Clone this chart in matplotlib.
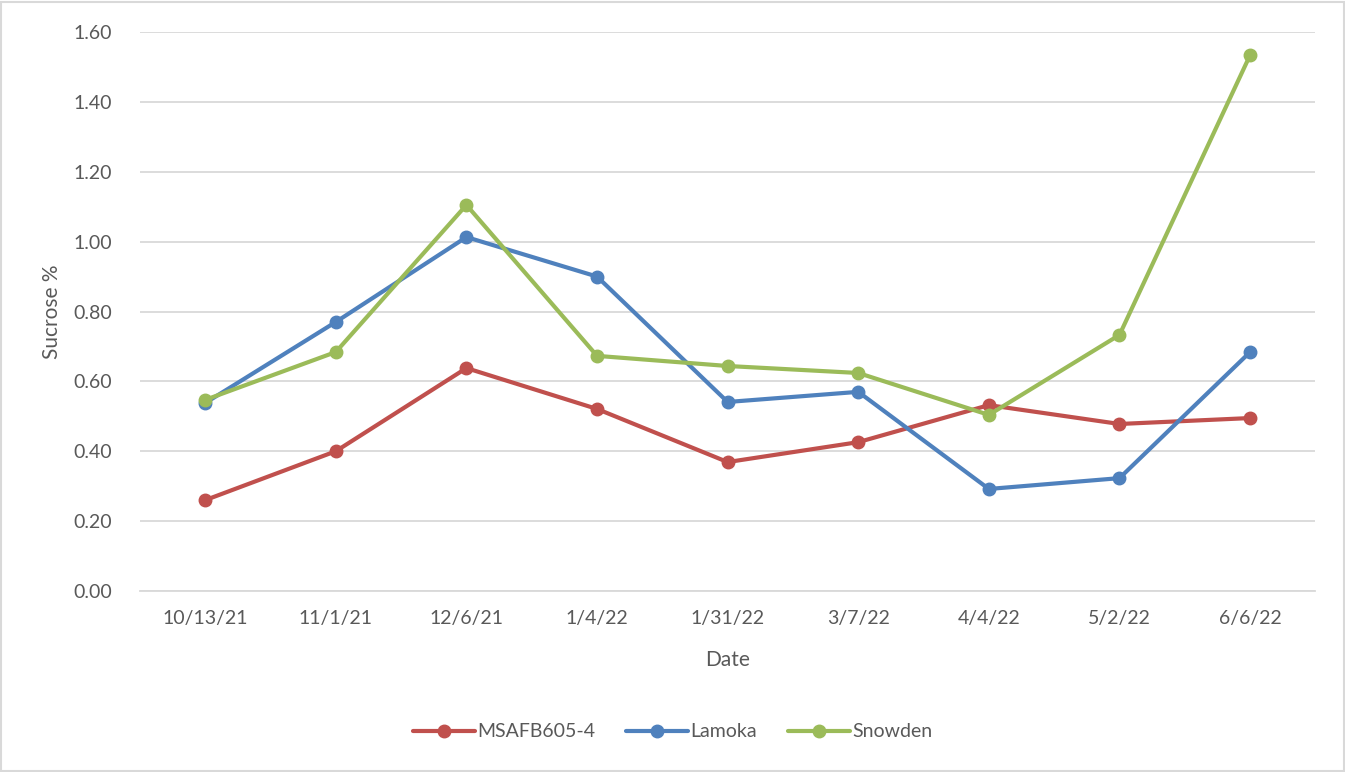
import matplotlib
matplotlib.use("Agg")
import matplotlib.pyplot as plt
from matplotlib.patches import Rectangle
import numpy as np

plt.rcParams['font.family'] = ['Lato', 'DejaVu Sans']

dates = ['10/13/21', '11/1/21', '12/6/21', '1/4/22', '1/31/22',
         '3/7/22', '4/4/22', '5/2/22', '6/6/22']
msafb = [0.26, 0.40, 0.638, 0.521, 0.369, 0.426, 0.532, 0.478, 0.495]
lamoka = [0.538, 0.77, 1.013, 0.90, 0.541, 0.57, 0.292, 0.323, 0.684]
snowden = [0.547, 0.684, 1.105, 0.673, 0.644, 0.624, 0.504, 0.733, 1.534]

series = [('MSAFB605-4', msafb, '#C0504D'),
          ('Lamoka', lamoka, '#4F81BD'),
          ('Snowden', snowden, '#9BBB59')]

grey = '#595959'

fig = plt.figure(figsize=(13.45, 7.72), dpi=100)
ax = fig.add_axes([0.104, 0.2345, 0.874, 0.724])

x = np.arange(len(dates))
for name, vals, col in series:
    ax.plot(x, vals, color=col, lw=3, marker='o', ms=9,
            solid_capstyle='round', label=name, zorder=3)

ax.set_xlim(-0.5, len(dates) - 0.5)
ax.set_ylim(0, 1.6)
ax.set_yticks(np.arange(0, 1.61, 0.2))
ax.set_yticklabels([f'{v:.2f}' for v in np.arange(0, 1.61, 0.2)])
ax.set_xticks(x)
ax.set_xticklabels(dates)
ax.grid(axis='y', color='#D9D9D9', lw=1.3, zorder=0)
for s in ['top', 'right', 'left']:
    ax.spines[s].set_visible(False)
ax.spines['bottom'].set_color('#D9D9D9')
ax.spines['bottom'].set_linewidth(1.3)
ax.tick_params(length=0, labelsize=14, colors=grey, pad=14)
ax.tick_params(axis='y', pad=20)

ax.set_ylabel('Sucrose %', fontsize=15, color=grey, labelpad=8)
ax.set_xlabel('Date', fontsize=15, color=grey, labelpad=16)

fig.legend(loc='center', bbox_to_anchor=(0.5, 0.052), ncol=3, frameon=False,
           fontsize=14, labelcolor=grey, handlelength=3.2, handletextpad=0.1,
           columnspacing=1.6)

fig.patches.append(Rectangle((0.001, 0.001), 0.998, 0.997, transform=fig.transFigure,
                             fill=False, edgecolor='#D9D9D9', lw=1.5))

fig.savefig('out.png', dpi=100)
